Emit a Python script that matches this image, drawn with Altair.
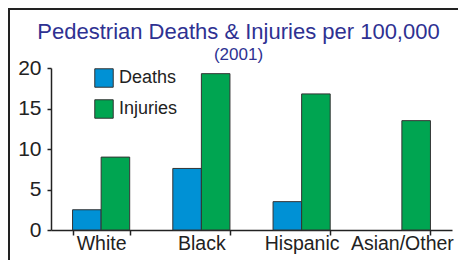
import altair as alt
import pandas as pd

categories = ["White", "Black", "Hispanic", "Asian/Other"]
deaths = [2.5, 7.6, 3.5, None]
injuries = [9.0, 19.3, 16.8, 13.5]
series = ["Deaths", "Injuries"]
colors = ["#0091D5", "#00A551"]
y_ticks = [0, 5, 10, 15, 20]

FONT = "Liberation Sans, Arial, sans-serif"

rows = []
for c, d, i in zip(categories, deaths, injuries):
    if d is not None:
        rows.append({"group": c, "series": "Deaths", "value": d})
    if i is not None:
        rows.append({"group": c, "series": "Injuries", "value": i})
df = pd.DataFrame(rows)

W, H = 401, 162
PL, PT, PR, PB = 43, 60, 6, 30

bars = alt.Chart(df).mark_bar(stroke="#333333", strokeWidth=1).encode(
    x=alt.X("group:N", sort=categories,
            scale=alt.Scale(paddingInner=0.43, paddingOuter=0.215),
            axis=alt.Axis(title=None, labelAngle=0, labelFontSize=19.5, labelFont=FONT,
                          labelColor="#222222", domainColor="#222222", domainWidth=1.5,
                          tickColor="#222222", tickSize=5, tickWidth=1.5, tickBand="extent",
                          labelPadding=-1)),
    xOffset=alt.XOffset("series:N", scale=alt.Scale(domain=series, paddingInner=0, paddingOuter=0)),
    y=alt.Y("value:Q", scale=alt.Scale(domain=[0, 20], nice=False),
            axis=alt.Axis(title=None, values=y_ticks, grid=False, labelFontSize=21, labelFont=FONT,
                          labelColor="#222222", domainColor="#222222", domainWidth=1.5,
                          tickColor="#222222", tickSize=4, tickWidth=1.5, labelPadding=6)),
    color=alt.Color("series:N", scale=alt.Scale(domain=series, range=colors),
                    legend=alt.Legend(title=None, orient="none", legendX=43, legendY=0,
                                      symbolType="square", symbolSize=340, symbolStrokeColor="#333333",
                                      symbolStrokeWidth=1, symbolOpacity=1,
                                      labelFontSize=18, labelFont=FONT, labelColor="#222222",
                                      labelOffset=5, rowPadding=7)),
)

frame_left = alt.Chart(df).mark_rule(color="#222222", strokeWidth=2).encode(
    x=alt.value(-PL + 1), y=alt.value(-PT), y2=alt.value(H + PB)
)
frame_top = alt.Chart(df).mark_rule(color="#222222", strokeWidth=2).encode(
    y=alt.value(-PT + 1), x=alt.value(-PL), x2=alt.value(W + PR)
)

chart = alt.layer(bars, frame_left, frame_top).properties(
    width=W, height=H,
    autosize=alt.AutoSizeParams(type="none"),
    padding={"left": PL, "top": PT, "right": PR, "bottom": PB},
    title=alt.TitleParams(text="Pedestrian Deaths & Injuries per 100,000", subtitle="(2001)",
                          anchor="middle", frame="group", dx=-13, offset=-57,
                          font=FONT, fontSize=22, fontWeight="normal", color="#2E3192",
                          subtitleFont=FONT, subtitleFontSize=17, subtitleColor="#2E3192",
                          subtitlePadding=3),
).configure_view(stroke=None)

chart.save("out.html", embed_options={"renderer": "svg", "actions": False})
